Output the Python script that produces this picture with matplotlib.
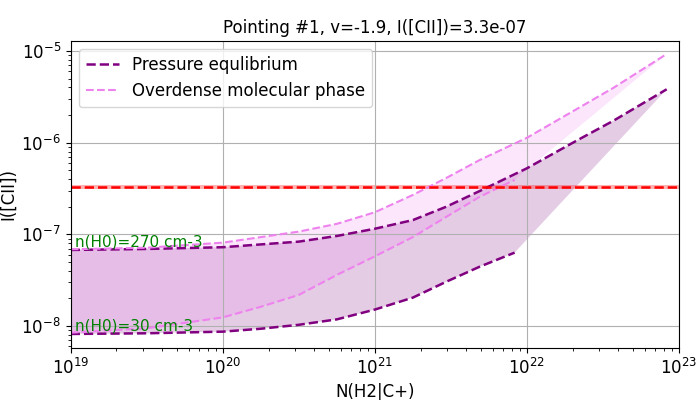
import matplotlib
matplotlib.use("Agg")
import matplotlib.pyplot as plt

# Data
N_up = [1e19, 3.16e19, 1e20, 3.16e20, 5.62e20, 1e21, 1.78e21, 2.95e21,
        4.9e21, 1e22, 2.14e22, 3.72e22, 8.3e22]
N_low = [1e19, 3.16e19, 1e20, 1.78e20, 3.16e20, 5.62e20, 1e21, 1.78e21,
         2.95e21, 4.9e21, 8.3e21]

press_up = [6.75e-8, 6.92e-8, 7.23e-8, 8.32e-8, 9.59e-8, 1.15e-7, 1.43e-7,
            2.0e-7, 2.97e-7, 5.25e-7, 1.06e-6, 1.74e-6, 3.82e-6]
press_low = [8.18e-9, 8.32e-9, 8.67e-9, 9.33e-9, 1.03e-8, 1.18e-8, 1.51e-8,
             2.04e-8, 3.04e-8, 4.44e-8, 6.31e-8]

over_up = [6.87e-8, 7.14e-8, 8.11e-8, 1.07e-7, 1.30e-7, 1.74e-7, 2.69e-7,
           4.12e-7, 6.47e-7, 1.13e-6, 2.34e-6, 3.98e-6, 9.27e-6]
over_low = [8.45e-9, 9.44e-9, 1.24e-8, 1.62e-8, 2.18e-8, 3.6e-8, 5.75e-8,
            9.33e-8, 1.55e-7, 2.57e-7, 3.92e-7]

I_obs = 3.3e-7
I_err = 0.05

title = "Pointing #1, v=-1.9, I([CII])=3.3e-07"
labels = ["Pressure equlibrium", "Overdense molecular phase"]
dens_labels = ["n(H0)=270 cm-3", "n(H0)=30 cm-3"]

fig = plt.figure(figsize=(7, 4), dpi=100)
ax = fig.add_axes([0.101, 0.13, 0.869, 0.7675])
ax.set_xscale("log")
ax.set_yscale("log")

# shaded regions
for xu, yu, xl, yl, c in [(N_up, press_up, N_low, press_low, "purple"),
                          (N_up, over_up, N_low, over_low, "violet")]:
    px = list(xu) + list(xl)[::-1]
    py = list(yu) + list(yl)[::-1]
    ax.fill(px, py, color=c, alpha=0.2, lw=0)

ax.plot(N_up, press_up, "--", color="purple", lw=1.8, label=labels[0])
ax.plot(N_low, press_low, "--", color="purple", lw=1.8)
ax.plot(N_up, over_up, "--", color="violet", lw=1.5, label=labels[1])
ax.plot(N_low, over_low, "--", color="violet", lw=1.5)

ax.axhline(I_obs, color="red", ls="--", lw=1.8)
ax.axhspan(I_obs * (1 - I_err), I_obs * (1 + I_err), color="red", alpha=0.3, lw=0)

ax.text(1.06e19, press_up[0], dens_labels[0], color="green", fontsize=11, va="bottom")
ax.text(1.06e19, press_low[0], dens_labels[1], color="green", fontsize=11, va="bottom")

ax.set_xlim(1e19, 1e23)
ax.set_ylim(5.75e-9, 1.285e-5)
ax.grid(True, which="major", color="#b0b0b0", lw=0.8)
ax.tick_params(labelsize=12)
ax.set_xlabel("N(H2|C+)", fontsize=12)
ax.set_ylabel("I([CII])", fontsize=12, labelpad=3)
ax.set_title(title, fontsize=12)
ax.legend(loc="upper left", fontsize=12)

fig.savefig("out.png", dpi=100)
